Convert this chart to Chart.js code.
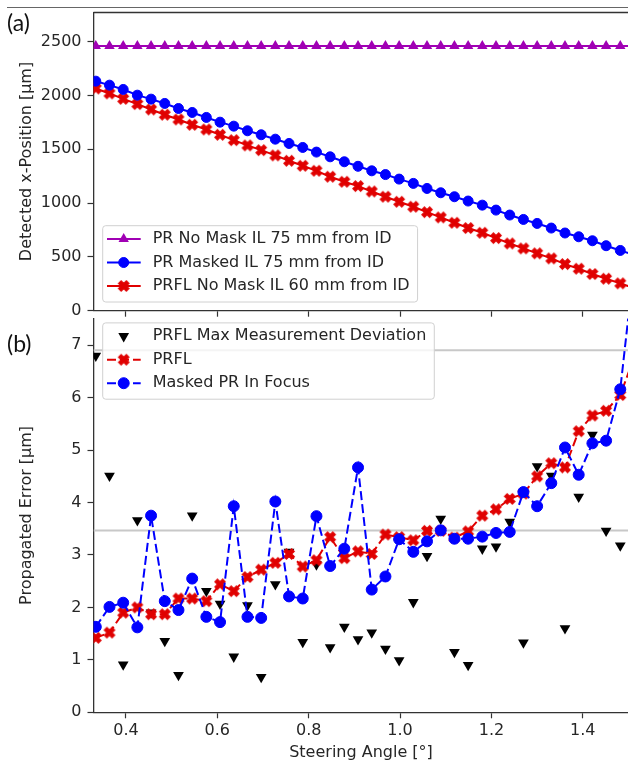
<!DOCTYPE html>
<html><head><meta charset="utf-8">
<script src="https://cdn.jsdelivr.net/npm/chart.js@4"></script>
<style>
html,body{margin:0;padding:0;background:#fff;width:628px;height:763px;overflow:hidden;position:relative}
canvas{position:absolute;left:0}
#cA{top:0;width:640px;height:320px}
#cB{top:312px;width:640px;height:451px}
.lbl{position:absolute;font-family:Lato,"Open Sans",sans-serif;font-size:23px;color:#111;line-height:1}
#topline{position:absolute;left:7px;top:7px;width:621px;height:1px;background:#666}
</style></head><body>
<div id="topline"></div>
<canvas id="cA" width="640" height="320"></canvas>
<canvas id="cB" width="640" height="451"></canvas>
<div class="lbl" style="left:7px;top:11px">(a)</div>
<div class="lbl" style="left:7px;top:332px">(b)</div>
<script>
// ---------- data ----------
const steeringAngles = [0.334,0.364,0.394,0.425,0.455,0.485,0.515,0.545,0.576,0.606,
  0.636,0.666,0.696,0.727,0.757,0.787,0.817,0.847,0.878,0.908,
  0.938,0.968,0.998,1.029,1.059,1.089,1.119,1.149,1.180,1.210,
  1.240,1.270,1.300,1.331,1.361,1.391,1.421,1.451,1.482,1.512];

// panel (a) detected x-position [µm]
const prNoMask = [2460,2460,2460,2460,2460,2460,2460,2460,2460,2460,
  2460,2460,2460,2460,2460,2460,2460,2460,2460,2460,
  2460,2460,2460,2460,2460,2460,2460,2460,2460,2460,
  2460,2460,2460,2460,2460,2460,2460,2460,2460,2460];
const prMasked = [2133,2096,2056,2003,1966,1926,1879,1842,1796,1752,
  1715,1672,1635,1594,1554,1517,1474,1430,1384,1342,
  1300,1265,1223,1183,1136,1096,1059,1019,981,935,
  889,848,811,768,722,687,650,604,560,520];
const prflNoMask = [2065,2019,1969,1920,1870,1821,1777,1728,1684,1635,
  1585,1536,1492,1443,1393,1347,1300,1245,1198,1158,
  1108,1059,1012,966,916,867,817,768,724,675,
  625,579,533,486,433,390,341,297,254,210];

// panel (b) propagated error [µm]
const prflMaxDev = [6.80,4.51,0.91,3.66,1.90,1.36,0.71,3.75,2.31,2.07,
  1.06,2.04,0.67,2.44,3.06,1.34,2.82,1.24,1.63,1.39,
  1.52,1.21,0.99,2.10,2.98,3.69,1.15,0.90,3.12,3.16,
  3.63,1.33,4.69,4.51,1.60,4.11,5.29,3.46,3.18,null];
const prflError = [1.42,1.52,1.90,2.00,1.87,1.87,2.17,2.17,2.12,2.44,
  2.31,2.58,2.72,2.85,3.02,2.78,2.90,3.34,2.94,3.07,
  3.02,3.39,3.34,3.28,3.46,3.46,3.33,3.45,3.75,3.87,
  4.07,4.17,4.50,4.75,4.67,5.36,5.66,5.75,6.05,6.76];
const maskedPrError = [1.63,2.01,2.09,1.62,3.75,2.12,1.95,2.55,1.82,1.72,
  3.93,1.82,1.80,4.02,2.21,2.17,3.74,2.79,3.12,4.67,
  2.34,2.59,3.30,3.06,3.26,3.47,3.31,3.31,3.35,3.42,
  3.44,4.20,3.93,4.37,5.05,4.53,5.13,5.18,6.16,8.50];
const referenceLevels = [6.905, 3.468];

const xTickValues = [0.4,0.6,0.8,1.0,1.2,1.4];
const yTicksA = [0,500,1000,1500,2000,2500];
const yTicksB = [0,1,2,3,4,5,6,7];
const X_MIN = 0.329, X_MAX = 1.5;

// ---------- styling ----------
Chart.defaults.font.family = '"DejaVu Sans", sans-serif';
Chart.defaults.font.size = 16;
Chart.defaults.color = '#262626';

const AXIS = '#333333';
const PURPLE = '#a000b4', BLUE = '#0000ff', RED = '#e00000';

function makeX(color) {
  const c = document.createElement('canvas');
  c.width = 14; c.height = 14;
  const g = c.getContext('2d');
  g.translate(7, 7); g.rotate(Math.PI / 4);
  const L = 5.6, a = 1.9;
  g.beginPath();
  g.moveTo(-a,-L); g.lineTo(a,-L); g.lineTo(a,-a); g.lineTo(L,-a); g.lineTo(L,a); g.lineTo(a,a);
  g.lineTo(a,L); g.lineTo(-a,L); g.lineTo(-a,a); g.lineTo(-L,a); g.lineTo(-L,-a); g.lineTo(-a,-a);
  g.closePath();
  g.fillStyle = color; g.fill();
  g.lineWidth = 1; g.strokeStyle = color; g.stroke();
  return c;
}
const redX = makeX(RED);

const pts = arr => steeringAngles.map((x, i) => ({x, y: arr[i]}));

const mplLegend = {
  id: 'mplLegend',
  afterDatasetsDraw(chart, args, opts) {
    const ctx = chart.ctx, ca = chart.chartArea;
    ctx.save();
    ctx.font = '16px "DejaVu Sans", sans-serif';
    const ds = opts.items.map(i => chart.data.datasets[i]);
    const tw = Math.max(...ds.map(d => ctx.measureText(d.label).width));
    const w = 50 + tw + 8, h = 76.3;
    const x0 = ca.left + 9.2;
    const y0 = opts.anchor === 'bottom' ? ca.bottom - 8.7 - h : ca.top + 4.4;
    ctx.beginPath();
    ctx.roundRect(x0, y0, w, h, 3);
    ctx.fillStyle = 'rgba(255,255,255,0.8)';
    ctx.fill();
    ctx.lineWidth = 1; ctx.strokeStyle = '#d0d0d0'; ctx.stroke();
    ds.forEach((d, k) => {
      const cy = y0 + 13.3 + k * 23.5;
      if (d.showLine !== false) {
        ctx.beginPath();
        ctx.setLineDash(d.borderDash || []);
        ctx.strokeStyle = d.borderColor; ctx.lineWidth = d.borderWidth;
        ctx.moveTo(x0 + 4.3, cy); ctx.lineTo(x0 + 38, cy); ctx.stroke();
      }
      ctx.setLineDash([]);
      ctx.fillStyle = d.pointBackgroundColor; ctx.strokeStyle = d.pointBorderColor;
      ctx.lineWidth = d.pointBorderWidth || 0;
      Chart.helpers.drawPoint(ctx, {pointStyle: d.pointStyle, rotation: d.pointRotation || 0,
        radius: d.pointRadius, borderWidth: d.pointBorderWidth || 0}, x0 + 21, cy);
      ctx.fillStyle = '#262626'; ctx.textBaseline = 'middle'; ctx.textAlign = 'left';
      ctx.fillText(d.label, x0 + 50, cy);
    });
    ctx.restore();
  }
};
const topSpine = {
  id: 'topSpine',
  afterDraw(chart) {
    const ctx = chart.ctx, ca = chart.chartArea;
    ctx.save(); ctx.strokeStyle = AXIS; ctx.lineWidth = 1.3;
    ctx.beginPath(); ctx.moveTo(ca.left, Math.round(ca.top) + 0.5); ctx.lineTo(ca.right + 5, Math.round(ca.top) + 0.5); ctx.stroke();
    ctx.restore();
  }
};

function xScale(showLabels, height, title) {
  return {
    type: 'linear', min: X_MIN, max: X_MAX,
    afterBuildTicks: s => { s.ticks = xTickValues.map(v => ({value: v})); },
    afterFit: s => { s.height = height; s.paddingLeft = 0; s.paddingRight = 0; },
    grid: {drawOnChartArea: false, drawTicks: true, tickLength: 6, tickWidth: 1.2, tickColor: AXIS},
    border: {display: true, color: AXIS, width: 1.3},
    ticks: {display: showLabels, padding: 3, autoSkip: false, maxRotation: 0,
      callback: v => Number(v).toFixed(1)},
    title: title ? {display: true, text: title, padding: {top: 0, bottom: 1}, color: '#262626'} : {display: false}
  };
}
function yScale(min, max, tickVals, title) {
  return {
    type: 'linear', min, max,
    afterBuildTicks: s => { s.ticks = tickVals.map(v => ({value: v})); },
    afterFit: s => { s.width = 93.5; s.paddingTop = 0; s.paddingBottom = 0; },
    grid: {drawOnChartArea: false, drawTicks: true, tickLength: 6, tickWidth: 1.2, tickColor: AXIS},
    border: {display: true, color: AXIS, width: 1.3},
    ticks: {padding: 6, autoSkip: false, callback: v => String(v)},
    title: {display: true, text: title, padding: {top: 17, bottom: 0}, color: '#262626'}
  };
}

// ---------- panel (a) ----------
new Chart(document.getElementById('cA'), {
  type: 'line',
  data: {datasets: [
    {label: 'PR No Mask IL 75 mm from ID', data: pts(prNoMask), borderColor: PURPLE, borderWidth: 2,
      pointStyle: 'triangle', pointRadius: 6, pointBackgroundColor: PURPLE, pointBorderColor: PURPLE, pointBorderWidth: 0},
    {label: 'PR Masked IL 75 mm from ID', data: pts(prMasked), borderColor: BLUE, borderWidth: 2,
      pointStyle: 'circle', pointRadius: 5, pointBackgroundColor: BLUE, pointBorderColor: BLUE, pointBorderWidth: 1},
    {label: 'PRFL No Mask IL 60 mm from ID', data: pts(prflNoMask), borderColor: RED, borderWidth: 2,
      pointStyle: redX, pointRadius: 5.5, pointBackgroundColor: RED, pointBorderColor: RED, pointBorderWidth: 0}
  ]},
  options: {
    responsive: false, animation: false, devicePixelRatio: 1,
    layout: {padding: {top: 12.3, right: 11.5, bottom: 0, left: 0}},
    elements: {line: {tension: 0}},
    scales: {x: xScale(false, 9.3, null), y: yScale(0, 2773, yTicksA, 'Detected x-Position [μm]')},
    plugins: {legend: {display: false}, tooltip: {enabled: false},
      mplLegend: {items: [0, 1, 2], anchor: 'bottom'}}
  },
  plugins: [mplLegend, topSpine]
});

// ---------- panel (b) ----------
const refSets = referenceLevels.map(v => ({label: 'ref', data: [{x: X_MIN, y: v}, {x: X_MAX, y: v}],
  borderColor: '#c8c8c8', borderWidth: 2, pointRadius: 0}));
new Chart(document.getElementById('cB'), {
  type: 'line',
  data: {datasets: [
    {label: 'Masked PR In Focus', data: pts(maskedPrError), borderColor: BLUE, borderWidth: 2, borderDash: [9, 4],
      pointStyle: 'circle', pointRadius: 5.5, pointBackgroundColor: BLUE, pointBorderColor: BLUE, pointBorderWidth: 1},
    {label: 'PRFL', data: pts(prflError), borderColor: RED, borderWidth: 2, borderDash: [9, 4],
      pointStyle: redX, pointRadius: 5.5, pointBackgroundColor: RED, pointBorderColor: RED, pointBorderWidth: 0},
    {label: 'PRFL Max Measurement Deviation', data: pts(prflMaxDev), showLine: false,
      pointStyle: 'triangle', pointRotation: 180, pointRadius: 6.2,
      pointBackgroundColor: '#000', pointBorderColor: '#000', pointBorderWidth: 0, borderColor: '#000'},
    ...refSets
  ]},
  options: {
    responsive: false, animation: false, devicePixelRatio: 1,
    layout: {padding: {top: 5.3, right: 11.5, bottom: 0, left: 0}},
    elements: {line: {tension: 0}},
    scales: {x: xScale(true, 50.7, 'Steering Angle [°]'), y: yScale(0, 7.51, yTicksB, 'Propagated Error [μm]')},
    plugins: {legend: {display: false}, tooltip: {enabled: false},
      mplLegend: {items: [2, 1, 0], anchor: 'top'}}
  },
  plugins: [mplLegend]
});
</script>
</body></html>
